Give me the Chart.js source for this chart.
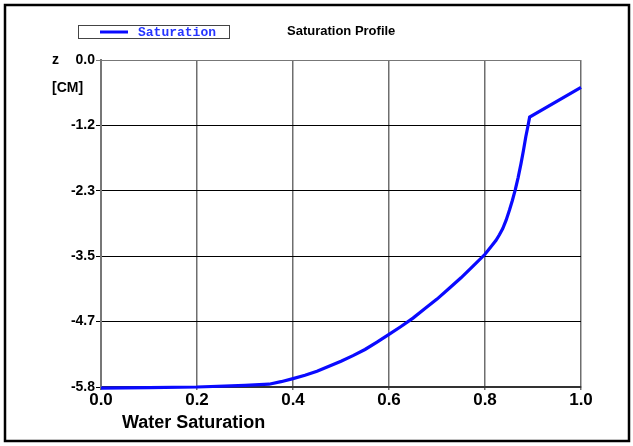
<!DOCTYPE html>
<html>
<head>
<meta charset="utf-8">
<script src="https://cdn.jsdelivr.net/npm/chart.js@4/dist/chart.umd.min.js"></script>
<style>
  html, body { margin: 0; padding: 0; background: #fff; overflow: hidden; }
  #wrap { position: relative; width: 633px; height: 446px; }
</style>
</head>
<body>
<div id="wrap"><canvas id="c" width="633" height="446"></canvas></div>
<script>
// Water saturation profile over depth
const saturation = [
  0, 0.1, 0.2, 0.3, 0.35, 0.375, 0.4, 0.425, 0.45, 0.475, 0.5, 0.525, 0.55, 0.575,
  0.6, 0.625, 0.65, 0.675, 0.7, 0.725, 0.75, 0.775, 0.8, 0.812, 0.823, 0.83, 0.837,
  0.844, 0.851, 0.857, 0.863, 0.869, 0.875, 0.88, 0.885, 0.889, 0.893, 1.0
];
const depth = [
  -5.86, -5.85, -5.84, -5.81, -5.79, -5.745, -5.69, -5.63, -5.56, -5.47, -5.38, -5.28, -5.17, -5.04,
  -4.90, -4.76, -4.61, -4.44, -4.27, -4.08, -3.89, -3.68, -3.47, -3.34, -3.22, -3.12, -3.01,
  -2.86, -2.68, -2.51, -2.32, -2.10, -1.85, -1.62, -1.37, -1.20, -1.02, -0.49
];

const xTicks = [0, 0.2, 0.4, 0.6, 0.8, 1.0];
const yTicks = [-5.84, -4.672, -3.504, -2.336, -1.168, 0];

const seriesName = 'Saturation';
const chartTitle = 'Saturation Profile';
const xAxisTitle = 'Water Saturation';
const yAxisName = 'z';
const yAxisUnit = '[CM]';

const SANS = '"Liberation Sans", Arial, sans-serif';
const MONO = '"Liberation Mono", "Courier New", monospace';

// Outer frame, legend box, title and axis captions
const decorations = {
  id: 'decorations',
  beforeDraw(chart) {
    const ctx = chart.ctx;
    ctx.save();
    ctx.fillStyle = '#fff';
    ctx.fillRect(0, 0, chart.width, chart.height);
    ctx.restore();
  },
  afterDraw(chart) {
    const ctx = chart.ctx;
    ctx.save();
    // frame
    ctx.strokeStyle = '#000';
    ctx.lineWidth = 2.5;
    ctx.strokeRect(5, 5, 624, 436);

    // legend box
    ctx.lineWidth = 1;
    ctx.strokeStyle = '#444';
    ctx.strokeRect(78.5, 25.5, 151, 13);
    const ds = chart.data.datasets[0];
    ctx.strokeStyle = ds.borderColor;
    ctx.lineWidth = 3;
    ctx.beginPath();
    ctx.moveTo(100, 32);
    ctx.lineTo(128, 32);
    ctx.stroke();
    ctx.fillStyle = '#2535ff';
    ctx.font = 'bold 13px ' + MONO;
    ctx.textAlign = 'left';
    ctx.textBaseline = 'middle';
    ctx.fillText(ds.label, 138, 32.5);

    // title
    ctx.fillStyle = '#000';
    ctx.font = 'bold 13px ' + SANS;
    ctx.textAlign = 'left';
    ctx.fillText(chartTitle, 287, 31);

    // y axis caption
    ctx.font = 'bold 14px ' + SANS;
    ctx.fillText(yAxisName, 52, 60);
    ctx.fillText(yAxisUnit, 52, 88);

    // x axis caption
    ctx.font = 'bold 18px ' + SANS;
    ctx.fillText(xAxisTitle, 122, 423);
    ctx.restore();
  }
};

new Chart(document.getElementById('c'), {
  type: 'line',
  data: {
    datasets: [{
      label: seriesName,
      data: saturation.map((s, i) => ({ x: s, y: depth[i] })),
      borderColor: '#0a0aff',
      borderWidth: 3.2,
      pointRadius: 0,
      tension: 0,
      fill: false,
      clip: false
    }]
  },
  options: {
    responsive: false,
    animation: false,
    devicePixelRatio: 1,
    layout: { padding: { top: 60, right: 52, left: 0, bottom: 0 } },
    plugins: {
      legend: { display: false },
      title: { display: false },
      tooltip: { enabled: false }
    },
    scales: {
      x: {
        type: 'linear',
        min: 0,
        max: 1,
        afterBuildTicks: s => { s.ticks = xTicks.map(v => ({ value: v })); },
        afterFit: s => { s.height = 59; },
        ticks: {
          callback: v => Number(v).toFixed(1),
          font: { family: SANS, size: 17, weight: 'bold' },
          color: '#000',
          padding: 0,
          maxRotation: 0,
          autoSkip: false
        },
        grid: { color: '#6e6e6e', lineWidth: 1.5, tickLength: 3 },
        border: { color: '#333', width: 2 }
      },
      y: {
        type: 'linear',
        min: -5.84,
        max: 0,
        afterBuildTicks: s => { s.ticks = yTicks.map(v => ({ value: v })); },
        afterFit: s => { s.width = 101; },
        ticks: {
          callback: v => Number(v).toFixed(1),
          font: { family: SANS, size: 14, weight: 'bold' },
          color: '#000',
          padding: 1,
          autoSkip: false
        },
        grid: {
          color: c => (c.tick && c.tick.value === 0 ? '#777' : '#000'),
          lineWidth: 1,
          tickLength: 5
        },
        border: { color: '#777', width: 2 }
      }
    }
  },
  plugins: [decorations]
});
</script>
</body>
</html>
